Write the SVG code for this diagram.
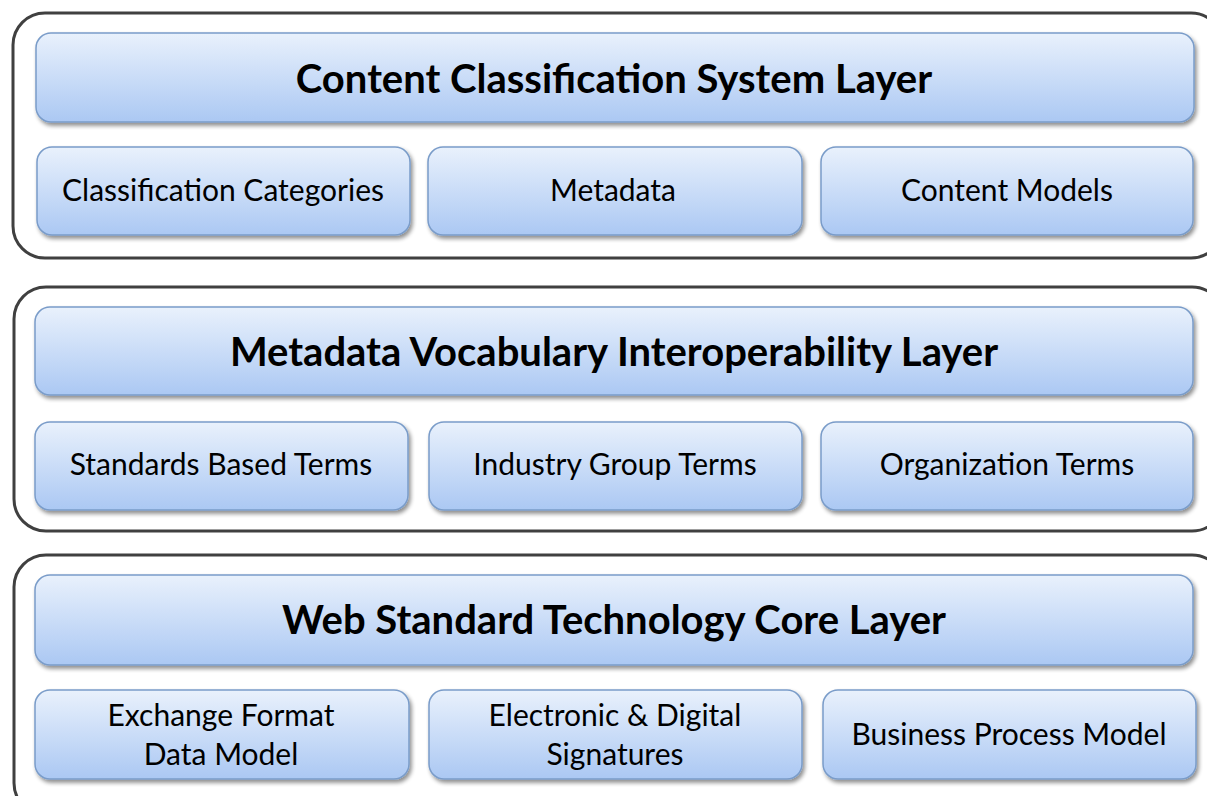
<svg xmlns="http://www.w3.org/2000/svg" width="1207" height="796" viewBox="0 0 1207 796">
<style>
.layer{fill:#ffffff;stroke:#404040;stroke-width:3}
.box{fill:url(#g);stroke:#7a9cc9;stroke-width:1.5;filter:url(#sh)}
.t{font-family:Lato,"Open Sans",sans-serif;font-weight:bold;font-size:40px;fill:#000;text-anchor:middle}
.s{font-family:Lato,"Open Sans",sans-serif;font-size:30px;fill:#000;text-anchor:middle}
</style>
<defs>
<linearGradient id="g" x1="0" y1="0" x2="0" y2="1">
<stop offset="0" stop-color="#e9f1fc"/>
<stop offset="1" stop-color="#abc8f3"/>
</linearGradient>
<filter id="sh" x="-5%" y="-10%" width="110%" height="130%">
<feGaussianBlur in="SourceAlpha" stdDeviation="2"/>
<feOffset dx="2" dy="3" result="b"/>
<feComponentTransfer><feFuncA type="linear" slope="0.45"/></feComponentTransfer>
<feMerge><feMergeNode/><feMergeNode in="SourceGraphic"/></feMerge>
</filter>
</defs>
<rect width="1207" height="796" fill="#fff"/>
<g id="layer1">
<rect class="layer" x="13" y="13" width="1210" height="245" rx="32"/>
<g id="l1-header"><rect class="box" x="36" y="33" width="1158" height="89" rx="15"/><text class="t" x="614" y="93">Content Classification System Layer</text></g>
<g id="l1-a"><rect class="box" x="37" y="147" width="373" height="88" rx="15"/><text class="s" x="223" y="201">Classification Categories</text></g>
<g id="l1-b"><rect class="box" x="428" y="147" width="374" height="88" rx="15"/><text class="s" x="613" y="201">Metadata</text></g>
<g id="l1-c"><rect class="box" x="821" y="147" width="372" height="88" rx="15"/><text class="s" x="1007" y="201">Content Models</text></g>
</g>
<g id="layer2">
<rect class="layer" x="14" y="287" width="1210" height="244" rx="32"/>
<g id="l2-header"><rect class="box" x="35" y="307" width="1158" height="88" rx="15"/><text class="t" x="614" y="366">Metadata Vocabulary Interoperability Layer</text></g>
<g id="l2-a"><rect class="box" x="35" y="422" width="373" height="88" rx="15"/><text class="s" x="221" y="475">Standards Based Terms</text></g>
<g id="l2-b"><rect class="box" x="429" y="422" width="373" height="88" rx="15"/><text class="s" x="615" y="475">Industry Group Terms</text></g>
<g id="l2-c"><rect class="box" x="821" y="422" width="372" height="88" rx="15"/><text class="s" x="1007" y="475">Organization Terms</text></g>
</g>
<g id="layer3">
<rect class="layer" x="14" y="555" width="1210" height="260" rx="32"/>
<g id="l3-header"><rect class="box" x="35" y="575" width="1158" height="90" rx="15"/><text class="t" x="614" y="634">Web Standard Technology Core Layer</text></g>
<g id="l3-a"><rect class="box" x="35" y="690" width="374" height="89" rx="15"/><text class="s" x="221" y="726">Exchange Format</text><text class="s" x="221" y="765">Data Model</text></g>
<g id="l3-b"><rect class="box" x="429" y="690" width="373" height="89" rx="15"/><text class="s" x="615" y="726">Electronic &amp; Digital</text><text class="s" x="615" y="765">Signatures</text></g>
<g id="l3-c"><rect class="box" x="823" y="690" width="373" height="89" rx="15"/><text class="s" x="1009" y="745">Business Process Model</text></g>
</g>
<g id="connectors"/>
</svg>
